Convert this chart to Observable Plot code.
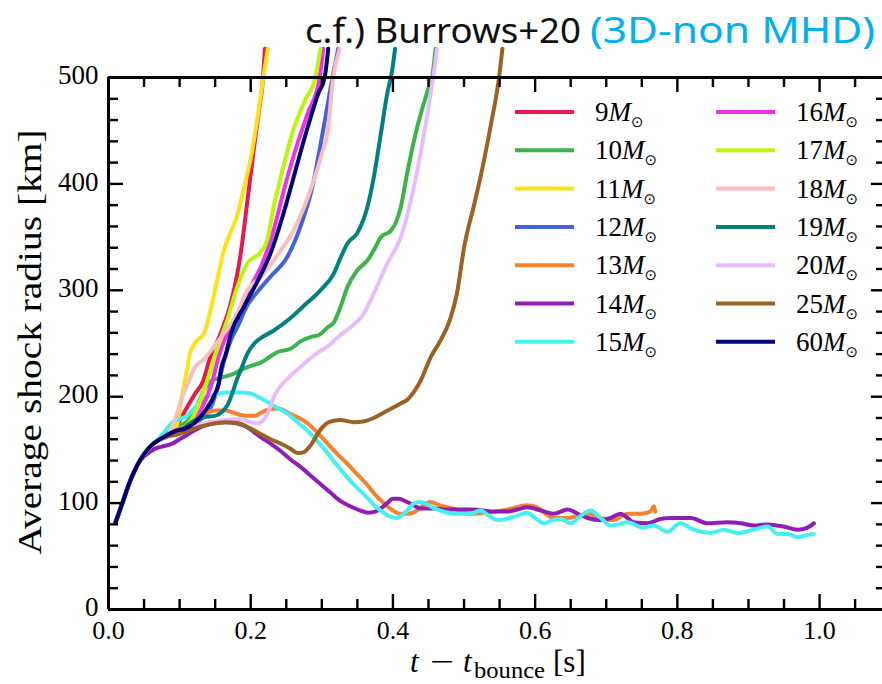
<!DOCTYPE html>
<html>
<head>
<meta charset="utf-8">
<script src="https://cdn.jsdelivr.net/npm/d3@7"></script>
<script src="https://cdn.jsdelivr.net/npm/@observablehq/plot@0.6"></script>
<style>
  html, body { margin: 0; padding: 0; background: #fff; }
  #chart { width: 882px; height: 684px; overflow: hidden; }
</style>
</head>
<body>
<div id="chart"></div>
<script>
// Progenitor masses (solar masses) and their line colours
const masses = [9, 10, 11, 12, 13, 14, 15, 16, 17, 18, 19, 20, 25, 60];
const colors = ["#e6194b", "#3cb44b", "#ffe119", "#4363d8", "#f58231", "#911eb4", "#46f0f0",
                "#f032e6", "#bcf60c", "#fabebe", "#008080", "#e6beff", "#9a6324", "#000075"];

// Early shock expansion shared by all models: [t - t_bounce (s), average shock radius (km)]
const rise = [[0.010, 82], [0.020, 101], [0.030, 120], [0.040, 135], [0.050, 146], [0.060, 154], [0.070, 159]];

// Each model after it leaves the shared early expansion
const m9 = [[0.080, 164], [0.094, 171], [0.108, 187], [0.122, 203], [0.132, 213], [0.143, 237], [0.158, 260],
  [0.172, 288], [0.181, 315], [0.186, 335], [0.195, 382], [0.204, 431], [0.211, 466], [0.217, 497], [0.220, 527]];
const m10 = [[0.080, 162], [0.100, 172], [0.115, 180], [0.125, 192], [0.135, 207], [0.145, 215], [0.158, 218],
  [0.174, 221], [0.186, 225], [0.200, 229], [0.214, 232], [0.228, 238], [0.238, 242], [0.256, 245], [0.270, 252],
  [0.284, 256], [0.296, 258], [0.308, 265], [0.317, 270], [0.326, 284], [0.336, 303], [0.350, 319], [0.364, 328],
  [0.375, 340], [0.383, 350], [0.397, 356], [0.405, 365], [0.411, 378], [0.420, 410], [0.434, 453], [0.449, 488],
  [0.456, 504], [0.460, 527]];
const m11 = [[0.080, 163], [0.090, 166], [0.097, 175], [0.104, 203], [0.111, 227], [0.115, 242], [0.125, 253],
  [0.134, 259], [0.143, 280], [0.153, 310], [0.162, 337], [0.172, 355], [0.181, 370], [0.190, 395], [0.200, 424],
  [0.210, 464], [0.217, 497], [0.224, 527]];
const m12 = [[0.080, 162], [0.100, 168], [0.120, 175], [0.132, 180], [0.146, 193], [0.155, 213], [0.163, 235],
  [0.172, 253], [0.186, 272], [0.190, 279], [0.210, 299], [0.228, 313], [0.252, 332], [0.270, 360], [0.287, 398],
  [0.302, 451], [0.315, 500], [0.323, 527]];
const m13 = [[0.080, 162], [0.100, 170], [0.118, 176], [0.136, 184], [0.150, 187], [0.165, 187], [0.180, 184],
  [0.193, 182], [0.205, 182], [0.215, 185], [0.225, 188], [0.240, 189], [0.252, 185], [0.265, 181], [0.280, 175],
  [0.294, 166], [0.308, 156], [0.322, 146], [0.336, 137], [0.350, 127], [0.364, 117], [0.375, 108], [0.387, 100],
  [0.400, 93], [0.410, 90], [0.420, 90], [0.429, 91], [0.439, 96], [0.453, 101], [0.465, 98], [0.477, 96],
  [0.490, 94], [0.509, 90], [0.533, 91], [0.561, 94], [0.589, 98], [0.603, 96], [0.615, 90], [0.626, 86],
  [0.646, 86], [0.660, 88], [0.674, 90], [0.692, 86], [0.710, 84], [0.730, 90], [0.748, 90], [0.762, 92],
  [0.767, 97], [0.769, 92]];
const m14 = [[0.050, 144], [0.056, 147], [0.065, 151], [0.075, 153], [0.090, 156], [0.100, 160], [0.108, 163],
  [0.120, 168], [0.136, 173], [0.150, 175], [0.165, 176], [0.180, 175], [0.193, 172], [0.214, 162], [0.230, 155],
  [0.242, 149], [0.256, 141], [0.270, 134], [0.284, 126], [0.298, 118], [0.312, 110], [0.326, 102], [0.340, 97],
  [0.354, 93], [0.365, 91], [0.375, 92], [0.385, 96], [0.392, 100], [0.400, 104], [0.408, 104], [0.420, 101],
  [0.429, 98], [0.439, 95], [0.457, 95], [0.477, 94], [0.513, 94], [0.541, 92], [0.561, 92], [0.575, 94],
  [0.589, 96], [0.608, 93], [0.626, 90], [0.646, 94], [0.660, 90], [0.674, 86], [0.692, 84], [0.706, 86],
  [0.720, 90], [0.730, 86], [0.738, 82], [0.758, 81], [0.776, 85], [0.790, 86], [0.819, 86], [0.842, 81],
  [0.870, 82], [0.889, 81], [0.907, 79], [0.927, 80], [0.949, 78], [0.969, 75], [0.983, 77], [0.992, 81]];
const m15 = [[0.070, 160], [0.080, 168], [0.090, 176], [0.100, 179], [0.108, 181], [0.122, 190], [0.136, 199],
  [0.150, 202], [0.165, 204], [0.186, 204], [0.200, 203], [0.210, 200], [0.224, 195], [0.236, 190], [0.252, 184],
  [0.266, 176], [0.280, 168], [0.294, 158], [0.308, 147], [0.322, 135], [0.336, 124], [0.350, 114], [0.364, 105],
  [0.375, 97], [0.387, 91], [0.397, 87], [0.406, 86], [0.413, 89], [0.420, 93], [0.428, 99], [0.435, 101],
  [0.445, 100], [0.458, 95], [0.472, 92], [0.486, 90], [0.509, 90], [0.523, 93], [0.535, 88], [0.547, 84],
  [0.570, 87], [0.589, 91], [0.600, 86], [0.612, 81], [0.625, 84], [0.636, 85], [0.650, 81], [0.664, 88],
  [0.678, 93], [0.692, 86], [0.706, 79], [0.718, 80], [0.730, 82], [0.752, 77], [0.767, 79], [0.786, 73],
  [0.804, 81], [0.823, 75], [0.847, 72], [0.865, 75], [0.885, 72], [0.907, 75], [0.927, 78], [0.941, 71],
  [0.955, 71], [0.969, 68], [0.983, 70], [0.992, 71]];
const m16 = [[0.080, 162], [0.100, 168], [0.115, 175], [0.130, 188], [0.145, 212], [0.155, 238], [0.167, 259],
  [0.186, 284], [0.200, 303], [0.218, 328], [0.232, 356], [0.247, 395], [0.262, 430], [0.280, 466], [0.297, 500],
  [0.302, 527]];
const m17 = [[0.080, 162], [0.100, 168], [0.118, 180], [0.127, 193], [0.139, 215], [0.153, 246], [0.167, 272],
  [0.181, 303], [0.195, 325], [0.214, 336], [0.224, 349], [0.232, 378], [0.240, 400], [0.260, 451], [0.276, 478],
  [0.291, 500], [0.298, 527]];
const m18 = [[0.080, 162], [0.090, 172], [0.104, 200], [0.113, 215], [0.122, 228], [0.134, 235], [0.158, 256],
  [0.181, 278], [0.195, 300], [0.214, 312], [0.232, 328], [0.245, 340], [0.260, 356], [0.275, 378], [0.288, 402],
  [0.300, 428], [0.308, 448], [0.316, 500], [0.325, 527]];
const m19 = [[0.080, 162], [0.100, 168], [0.122, 178], [0.135, 181], [0.150, 182], [0.160, 186], [0.168, 193],
  [0.174, 203], [0.180, 215], [0.186, 225], [0.195, 240], [0.205, 250], [0.214, 255], [0.232, 262], [0.256, 274],
  [0.274, 285], [0.298, 300], [0.317, 316], [0.326, 330], [0.336, 344], [0.350, 354], [0.364, 378], [0.373, 406],
  [0.383, 447], [0.392, 485], [0.399, 507], [0.403, 527]];
const m20 = [[0.080, 162], [0.100, 167], [0.120, 172], [0.136, 175], [0.165, 178], [0.186, 179], [0.200, 176],
  [0.210, 175], [0.218, 178], [0.225, 186], [0.232, 199], [0.240, 208], [0.249, 215], [0.270, 228], [0.284, 236],
  [0.298, 243], [0.308, 247], [0.326, 258], [0.340, 265], [0.359, 278], [0.373, 297], [0.392, 325], [0.411, 350],
  [0.425, 384], [0.439, 429], [0.453, 485], [0.460, 516], [0.462, 527]];
const m25 = [[0.080, 162], [0.100, 165], [0.120, 170], [0.136, 173], [0.150, 175], [0.165, 176], [0.183, 175],
  [0.200, 170], [0.214, 165], [0.228, 160], [0.242, 156], [0.256, 151], [0.266, 147], [0.275, 148], [0.285, 155],
  [0.294, 165], [0.302, 172], [0.310, 176], [0.326, 178], [0.345, 176], [0.360, 177], [0.373, 180], [0.390, 186],
  [0.401, 190], [0.412, 194], [0.420, 197], [0.430, 205], [0.439, 215], [0.453, 237], [0.467, 253], [0.480, 272],
  [0.490, 297], [0.500, 340], [0.514, 380], [0.523, 406], [0.537, 453], [0.549, 499], [0.554, 527]];
const m60 = [[0.080, 163], [0.095, 168], [0.108, 170], [0.122, 176], [0.136, 187], [0.150, 203], [0.155, 212],
  [0.158, 225], [0.165, 240], [0.172, 259], [0.190, 284], [0.210, 309], [0.228, 335], [0.246, 372], [0.259, 403],
  [0.280, 453], [0.295, 485], [0.304, 500], [0.309, 527]];

const tails = [m9, m10, m11, m12, m13, m14, m15, m16, m17, m18, m19, m20, m25, m60];

// Axis ticks
const xMajor = [0, 0.2, 0.4, 0.6, 0.8, 1.0];
const xMinor = [0.05, 0.1, 0.15, 0.25, 0.3, 0.35, 0.45, 0.5, 0.55, 0.65, 0.7, 0.75, 0.85, 0.9, 0.95, 1.05];
const yMajor = [0, 100, 200, 300, 400, 500];
const yMinor = [20, 40, 60, 80, 120, 140, 160, 180, 220, 240, 260, 280, 320, 340, 360, 380, 420, 440, 460, 480];

// Layout
const W = 882, H = 684;
const M = {left: 108, right: 0, top: 77, bottom: 75};
const tMax = 1.0885, tSpine = 1.094, rMax = 500;
const kx = (W - M.left - M.right) / tMax;   // px per second
const ky = (H - M.top - M.bottom) / rMax;   // px per km
const major = 15, minor = 10;
const serif = "'Liberation Serif', 'DejaVu Serif', serif";

const series = tails.map((tail, i) => ({
  mass: masses[i],
  color: colors[i],
  pts: [...rise.filter(([t]) => t < tail[0][0]), ...tail]
}));

const tickStyle = {stroke: "black", strokeWidth: 2.4};

const chart = Plot.plot({
  width: W, height: H,
  marginLeft: M.left, marginRight: M.right, marginTop: M.top, marginBottom: M.bottom,
  x: {domain: [0, tMax]},
  y: {domain: [0, rMax]},
  style: {fontFamily: serif, fontSize: "27px", background: "white", color: "black", overflow: "visible"},
  marks: [
    ...series.map(s => Plot.line(s.pts, {
      x: d => d[0], y: d => d[1], stroke: s.color, strokeWidth: 4,
      curve: "monotone-x", strokeLinejoin: "round"
    })),
    // spines (bottom, top, left)
    Plot.ruleY([0, rMax], {x1: 0, x2: tSpine, stroke: "black", strokeWidth: 3}),
    Plot.ruleX([0], {y1: 0, y2: rMax, stroke: "black", strokeWidth: 3}),
    // inward ticks on all four sides
    Plot.ruleX(xMajor, {x: d => d, y1: 0, y2: major / ky, ...tickStyle}),
    Plot.ruleX(xMinor, {x: d => d, y1: 0, y2: minor / ky, ...tickStyle}),
    Plot.ruleX(xMajor, {x: d => d, y1: rMax, y2: rMax - major / ky, ...tickStyle}),
    Plot.ruleX(xMinor, {x: d => d, y1: rMax, y2: rMax - minor / ky, ...tickStyle}),
    Plot.ruleY(yMajor, {y: d => d, x1: 0, x2: major / kx, ...tickStyle}),
    Plot.ruleY(yMinor, {y: d => d, x1: 0, x2: minor / kx, ...tickStyle}),
    Plot.ruleY(yMajor, {y: d => d, x1: tSpine, x2: tSpine - major / kx, ...tickStyle}),
    Plot.ruleY(yMinor, {y: d => d, x1: tSpine, x2: tSpine - minor / kx, ...tickStyle}),
    // tick labels
    Plot.axisX({ticks: xMajor, tickSize: 0, tickPadding: 11, tickFormat: d3.format(".1f"), label: null, fontSize: 26}),
    Plot.axisY({ticks: yMajor, tickSize: 0, tickPadding: 10, label: null, fontSize: 27, dy: -2})
  ]
});

document.getElementById("chart").appendChild(chart);

const svg = d3.select(chart);

// Axis titles
svg.append("text")
  .attr("transform", "translate(41,342) rotate(-90)")
  .attr("text-anchor", "middle")
  .attr("font-family", serif).attr("font-size", 34).attr("fill", "black")
  .attr("textLength", 425).attr("lengthAdjust", "spacingAndGlyphs")
  .text("Average shock radius [km]");

// t − t_bounce [s], each piece placed along the baseline
const xl = svg.append("text")
  .attr("y", 672).attr("text-anchor", "start")
  .attr("font-family", serif).attr("font-size", 31).attr("fill", "black");
xl.append("tspan").attr("x", 410).attr("font-style", "italic").text("t");
xl.append("tspan").attr("x", 430).attr("textLength", 24).attr("lengthAdjust", "spacingAndGlyphs").text("\u2212");
xl.append("tspan").attr("x", 463).attr("font-style", "italic").text("t");
xl.append("tspan").attr("x", 474).attr("font-size", 23).attr("dy", 6)
  .attr("textLength", 71).attr("lengthAdjust", "spacingAndGlyphs").text("bounce");
xl.append("tspan").attr("x", 553).attr("dy", -6).text("[s]");

// Legend, two columns of seven models
const lg = svg.append("g").attr("font-family", serif).attr("font-size", 27)
  .attr("fill", "black").attr("text-anchor", "start");
masses.forEach((m, i) => {
  const col = Math.floor(i / 7), row = i % 7;
  const x = 515 + col * 201, y = 112 + row * 38.3;
  lg.append("line")
    .attr("x1", x).attr("x2", x + 59).attr("y1", y).attr("y2", y)
    .attr("stroke", colors[i]).attr("stroke-width", 4);
  const t = lg.append("text").attr("x", x + 80).attr("y", y + 9);
  t.append("tspan").text(m);
  t.append("tspan").attr("font-style", "italic").text("M");
  t.append("tspan").attr("font-family", "'DejaVu Sans', sans-serif").attr("font-size", 15).attr("dy", 6).text("\u2299");
});

// Comparison note above the frame
svg.append("text")
  .attr("x", 305).attr("y", 43).attr("text-anchor", "start")
  .attr("font-family", "'Noto Sans', sans-serif").attr("font-size", 35).attr("fill", "#111")
  .attr("textLength", 276).attr("lengthAdjust", "spacingAndGlyphs")
  .text("c.f.) Burrows+20");
svg.append("text")
  .attr("x", 590).attr("y", 43).attr("text-anchor", "start")
  .attr("font-family", "'Noto Sans', sans-serif").attr("font-size", 37).attr("fill", "#00b0f0")
  .attr("textLength", 285).attr("lengthAdjust", "spacingAndGlyphs")
  .text("(3D-non MHD)");
</script>
</body>
</html>
